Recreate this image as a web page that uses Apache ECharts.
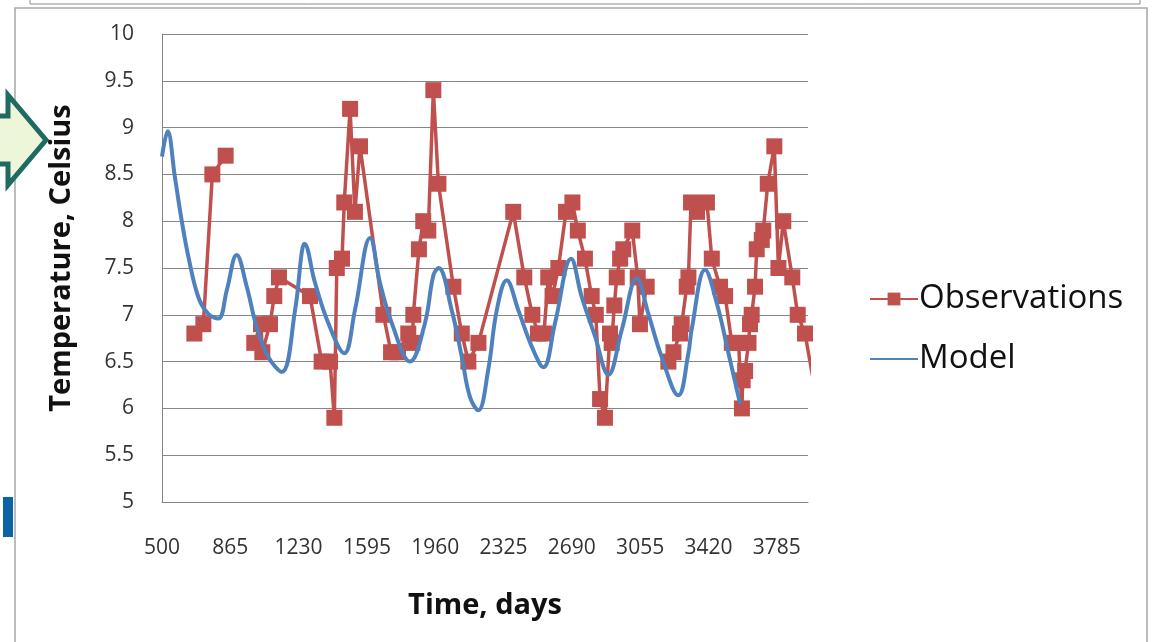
<!DOCTYPE html>
<html>
<head>
<meta charset="utf-8">
<title>Temperature: observations vs model</title>
<script src="https://cdn.jsdelivr.net/npm/echarts@6/dist/echarts.min.js"></script>
<style>
  html, body { margin: 0; padding: 0; background: #fff; }
  #chart { width: 1157px; height: 642px; }
</style>
</head>
<body>
<div id="chart"></div>
<script>
// observations (days, deg C); null temp = gap in the line
const obsDays = [673, 721, 769, 840, 900,
  993, 1029, 1036, 1077, 1100, 1125, 1291, 1353, 1398, 1421, 1434, 1462, 1474, 1505, 1531, 1558,
  1683, 1724, 1761, 1816, 1838, 1843, 1873, 1896, 1923, 1950, 1977, 2057, 2102, 2137, 2191,
  2377, 2436, 2479, 2509, 2541, 2564, 2587, 2618, 2659, 2693, 2722, 2760, 2796, 2818, 2841, 2867,
  2894, 2903, 2917, 2930, 2948, 2965, 3013, 3042, 3054, 3090, 3150,
  3206, 3233, 3268, 3277, 3304, 3313, 3327, 3359, 3412, 3438, 3482, 3509, 3545, 3581, 3599, 3603,
  3616, 3634, 3642, 3651, 3669, 3678, 3705, 3713, 3737, 3772, 3794, 3820, 3868, 3897, 3936, 3985]
const obsTemp = [6.8, 6.9, 8.5, 8.7, null,
  6.7, 6.9, 6.6, 6.9, 7.2, 7.4, 7.2, 6.5, 6.5, 5.9, 7.5, 7.6, 8.2, 9.2, 8.1, 8.8,
  7.0, 6.6, 6.6, 6.8, 6.7, 7.0, 7.7, 8.0, 7.9, 9.4, 8.4, 7.3, 6.8, 6.5, 6.7,
  8.1, 7.4, 7.0, 6.8, 6.8, 7.4, 7.2, 7.5, 8.1, 8.2, 7.9, 7.6, 7.2, 7.0, 6.1, 5.9,
  6.8, 6.7, 7.1, 7.4, 7.6, 7.7, 7.9, 7.4, 6.9, 7.3, null,
  6.5, 6.6, 6.8, 6.9, 7.3, 7.4, 8.2, 8.1, 8.2, 7.6, 7.3, 7.2, 6.7, 6.7, 6.0, 6.3,
  6.4, 6.7, 6.9, 7.0, 7.3, 7.7, 7.8, 7.9, 8.4, 8.8, 7.5, 8.0, 7.4, 7.0, 6.8, 6.25]

// model curve
const modelDays = [500, 530, 569, 605, 641, 694, 747, 801, 846, 899, 953, 1006, 1068, 1140,
  1211, 1247, 1260, 1318, 1389, 1474, 1531, 1612, 1665, 1728, 1825, 1905, 1950, 1978,
  2048, 2102, 2146, 2190, 2243, 2289, 2342, 2404, 2476, 2538, 2600, 2686, 2743, 2814, 2885,
  2957, 3037, 3099, 3170, 3259, 3313, 3330, 3402, 3465, 3527, 3589]
const modelTemp = [8.69, 8.96, 8.47, 8.01, 7.62, 7.19, 7.01, 6.96, 7.26, 7.64, 7.30, 6.87, 6.55, 6.39,
  7.05, 7.67, 7.76, 7.34, 6.91, 6.59, 7.05, 7.82, 7.34, 6.91, 6.50, 6.91, 7.42, 7.50,
  7.05, 6.55, 6.12, 5.98, 6.41, 7.05, 7.37, 7.05, 6.66, 6.44, 6.91, 7.60, 7.19, 6.77, 6.36,
  6.84, 7.39, 7.01, 6.55, 6.14, 6.59, 6.84, 7.48, 7.12, 6.59, 6.05]

const obsData = obsDays.map((d, i) => [d, obsTemp[i] === null ? '-' : obsTemp[i]])
const modelData = modelDays.map((d, i) => [d, modelTemp[i]])

const chart = echarts.init(document.getElementById('chart'))
const labelFont = 'Open Sans, Liberation Sans, sans-serif'

chart.setOption({
  backgroundColor: '#fff',
  animation: false,
  grid: { left: 162, right: 349, top: 34, bottom: 140 },
  legend: {
    orient: 'vertical',
    left: 864,
    top: 273,
    itemWidth: 48,
    itemHeight: 16,
    itemGap: 18,
    textStyle: { fontSize: 33, color: '#111', fontFamily: labelFont, lineHeight: 42, padding: [0, 0, 0, -4] },
    data: [
      { name: 'Observations' },
      // line only, no marker for the model
      { name: 'Model', itemStyle: { color: 'rgba(0,0,0,0)', borderWidth: 0 } }
    ]
  },
  xAxis: {
    type: 'value',
    min: 500,
    max: 3952,
    interval: 365,
    name: 'Time, days',
    nameLocation: 'middle',
    nameGap: 89,
    nameTextStyle: { fontSize: 29, fontWeight: 'bold', color: '#111', fontFamily: labelFont },
    axisLine: { lineStyle: { color: '#868686', width: 1 } },
    axisTick: { show: false },
    splitLine: { show: false },
    axisLabel: {
      fontSize: 21, color: '#333', fontFamily: labelFont, margin: 36, showMaxLabel: false,
      formatter: v => String(v)
    }
  },
  yAxis: {
    type: 'value',
    min: 5,
    max: 10,
    interval: 0.5,
    name: 'Temperature, Celsius',
    nameLocation: 'middle',
    nameRotate: 90,
    nameGap: 86,
    nameTextStyle: {
      fontSize: 29, fontWeight: 'bold', color: '#111', fontFamily: labelFont,
      padding: [0, 0, 0, 20]
    },
    axisLine: { show: true, lineStyle: { color: '#868686', width: 1 } },
    axisTick: { show: false },
    splitLine: { lineStyle: { color: '#868686', width: 1 } },
    axisLabel: { fontSize: 21, color: '#333', fontFamily: labelFont, margin: 28 }
  },
  series: [
    {
      name: 'Observations',
      type: 'line',
      data: obsData,
      connectNulls: false,
      symbol: 'rect',
      symbolSize: 16,
      itemStyle: { color: '#C0504D' },
      lineStyle: { color: '#C0504D', width: 3.5 },
      clip: true,
      z: 2
    },
    {
      name: 'Model',
      type: 'line',
      data: modelData,
      smooth: 0.4,
      symbol: 'none',
      itemStyle: { color: '#4F81BD' },
      lineStyle: { color: '#4F81BD', width: 4 },
      z: 3
    }
  ],
  graphic: [
    // slide frame and decorations
    { type: 'rect', shape: { x: 30, y: -4, width: 1110, height: 8 }, style: { fill: 'none', stroke: '#8c8c8c', lineWidth: 1 } },
    { type: 'polyline', shape: { points: [[15, 642], [15, 8], [1147, 8], [1147, 642]] }, style: { stroke: '#a6a6a6', lineWidth: 1.5, fill: 'none' } },
    {
      type: 'polygon',
      shape: { points: [[-12, 116], [8, 116], [8, 95], [46, 140], [8, 185], [8, 164], [-12, 164]] },
      style: { fill: '#EEF6DA', stroke: '#1D6B61', lineWidth: 5 }
    },
    { type: 'rect', shape: { x: 3, y: 497, width: 10, height: 40 }, style: { fill: '#0C63A3' } }
  ]
})
</script>
</body>
</html>
